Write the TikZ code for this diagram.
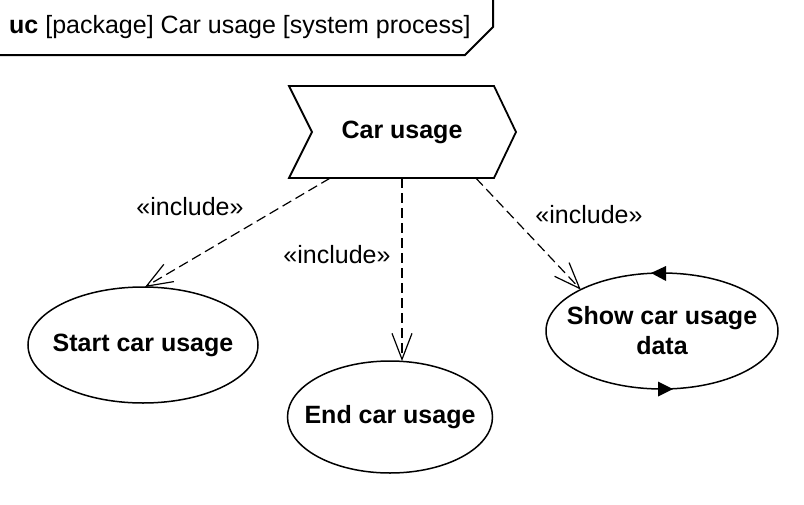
\documentclass[tikz,border=0pt]{standalone}
\usepackage{fontspec}
\setmainfont{Liberation Sans}
\usetikzlibrary{shapes.geometric,arrows.meta}
\begin{document}
\begin{tikzpicture}[x=1pt,y=-1pt,
  usecase/.style={ellipse,draw,line width=1.5pt,inner sep=0pt,outer sep=0pt},
  uctext/.style={align=center,inner sep=0pt,font=\fontsize{25}{30}\selectfont\bfseries},
  inc/.style={dash pattern=on 10pt off 5pt,line width=1.2pt,
    -{Straight Barb[length=26pt,width=20pt,line width=1.2pt]}},
  lab/.style={font=\fontsize{25}{30}\selectfont},
  tri/.style={fill=black}]
\useasboundingbox (0,0) rectangle (804,504);
\fill[white] (0,0) rectangle (804,504);
% frame label
\draw[line width=2pt] (0,55) -- (465,55) -- (493,27) -- (493,0);
\node[anchor=base west,lab,inner sep=0pt] (title) at (9,33) {\textbf{uc} [package] Car usage [system process]};
% process use case (chevron)
\draw[line width=1.8pt,line join=miter] (289,86) -- (494,86) -- (516,132) -- (494,178) -- (289,178) -- (312,132) -- cycle;
\node[minimum width=205pt,minimum height=92pt,inner sep=0pt,
  font=\fontsize{25}{30}\selectfont\bfseries] (cu) at (402,132) {Car usage};
% use cases
\node[usecase,minimum width=230pt,minimum height=116pt] (start) at (143,345) {};
\node[uctext] (starttext) at (start.center) {Start car usage};
\node[usecase,minimum width=205pt,minimum height=112pt] (end) at (390,417) {};
\node[uctext] (endtext) at (end.center) {End car usage};
\node[usecase,minimum width=232pt,minimum height=116pt] (show) at (662,331) {};
\node[uctext] (showtext) at (show.center) {Show car usage\\data};
% loop marks on show
\fill[tri] (651,273) -- (666,266) -- (666,281) -- cycle;
\fill[tri] (673,389) -- (658,381.5) -- (658,396.5) -- cycle;
% include relations
\draw[inc] ([xshift=-72pt]cu.south) -- (start.88);
\draw[inc] (cu.south) -- (cu.south |- end.north);
\draw[inc] ([xshift=74pt]cu.south) -- (show.153);
% labels
\node[lab] (l1) at (190,207) {«include»};
\node[lab] (l2) at (337,255) {«include»};
\node[lab] (l3) at (589,215) {«include»};
\end{tikzpicture}
\end{document}
